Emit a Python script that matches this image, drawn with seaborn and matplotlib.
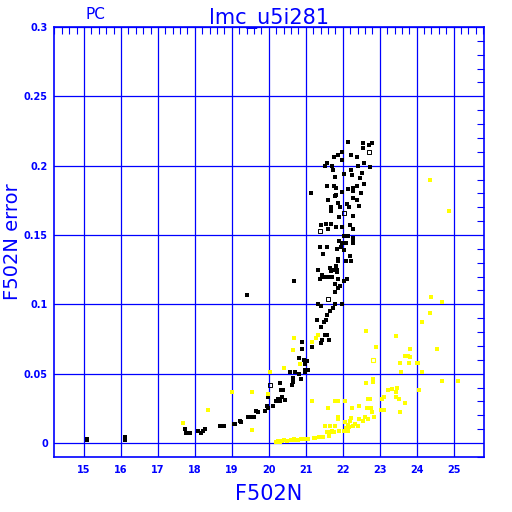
import matplotlib
matplotlib.use("Agg")
import matplotlib.pyplot as plt
from matplotlib.ticker import MultipleLocator
import seaborn as sns
import pandas as pd

# black points (magnitude, error)
black_mag = [22.13, 22.54, 22.70, 22.78, 22.54, 21.99, 21.87, 22.21, 21.77, 22.38,
             21.97, 22.58, 21.58, 21.51, 21.71, 22.40, 22.74, 21.73, 22.23, 22.51,
             22.03, 22.24, 21.80, 22.46, 22.58, 21.58, 21.77, 21.83, 22.38, 22.27,
             22.15, 22.27, 22.48, 21.82, 21.80, 21.15, 21.98, 22.28, 21.61, 22.39,
             21.88, 22.12, 22.45, 21.93, 22.18, 21.67, 21.69, 22.29, 21.91, 21.42,
             21.56, 21.69, 21.83, 21.98, 22.19, 22.27, 21.61, 22.03, 22.13, 22.29,
             22.29, 21.89, 21.99, 22.10, 21.39, 21.58, 21.85, 21.94, 22.04, 22.27,
             21.47, 22.19, 21.88, 22.09, 22.22, 21.87, 21.83, 21.65, 21.34, 21.77,
             21.85, 21.68, 21.85, 21.45, 21.50, 21.61, 21.72, 21.87, 21.39, 22.11,
             20.69, 22.04, 21.80, 21.88, 21.93, 21.80, 21.79, 21.97, 21.34, 21.42,
             21.73, 21.65, 21.58, 21.56, 21.30, 21.49, 21.40, 21.51, 21.58, 21.27,
             21.43, 21.63, 20.89, 21.41, 21.18, 20.89, 20.81, 20.95, 21.02, 20.98,
             21.05, 20.97, 20.58, 20.70, 20.82, 20.98, 20.66, 20.66, 20.86, 20.29,
             20.62, 20.32, 20.39, 20.36, 20.44, 20.29, 19.98, 20.26, 20.19, 19.94,
             19.99, 20.12, 19.89, 19.66, 19.72, 19.43, 19.51, 19.59, 19.21, 19.24,
             19.05, 19.08, 18.69, 18.80, 18.28, 18.23, 18.16, 18.08, 17.88, 17.76,
             17.72, 15.07, 15.09, 16.11, 16.12, 19.40]
black_err = [0.217, 0.216, 0.215, 0.216, 0.213, 0.210, 0.208, 0.208, 0.206, 0.206,
             0.204, 0.202, 0.202, 0.200, 0.200, 0.200, 0.199, 0.197, 0.197, 0.195,
             0.194, 0.193, 0.192, 0.191, 0.187, 0.185, 0.185, 0.184, 0.185, 0.184,
             0.183, 0.182, 0.180, 0.179, 0.178, 0.180, 0.181, 0.177, 0.175, 0.175,
             0.173, 0.172, 0.171, 0.170, 0.170, 0.170, 0.167, 0.164, 0.163, 0.157,
             0.158, 0.158, 0.156, 0.156, 0.157, 0.154, 0.154, 0.149, 0.149, 0.148,
             0.145, 0.146, 0.144, 0.144, 0.141, 0.141, 0.140, 0.141, 0.139, 0.144,
             0.136, 0.135, 0.133, 0.131, 0.131, 0.131, 0.128, 0.126, 0.125, 0.125,
             0.125, 0.124, 0.123, 0.121, 0.120, 0.120, 0.120, 0.118, 0.118, 0.118,
             0.117, 0.117, 0.115, 0.112, 0.113, 0.109, 0.100, 0.100, 0.100, 0.099,
             0.097, 0.095, 0.092, 0.089, 0.089, 0.087, 0.084, 0.078, 0.078, 0.076,
             0.074, 0.074, 0.073, 0.072, 0.069, 0.068, 0.061, 0.060, 0.059, 0.057,
             0.053, 0.053, 0.051, 0.051, 0.050, 0.051, 0.047, 0.044, 0.046, 0.043,
             0.042, 0.038, 0.038, 0.033, 0.031, 0.030, 0.033, 0.032, 0.030, 0.027,
             0.025, 0.027, 0.023, 0.023, 0.022, 0.019, 0.019, 0.019, 0.016, 0.015,
             0.014, 0.014, 0.012, 0.012, 0.010, 0.009, 0.007, 0.009, 0.007, 0.007,
             0.010, 0.003, 0.002, 0.004, 0.002, 0.107]

# open black squares
black_open_mag = [22.71, 22.04, 21.38, 21.60, 20.03]
black_open_err = [0.210, 0.166, 0.153, 0.104, 0.042]

# yellow points
yellow_mag = [17.69, 18.36, 19.00, 19.55, 19.54, 19.99, 20.04, 20.42, 20.69, 20.66,
              20.85, 21.17, 21.27, 21.34, 21.18, 22.64, 23.43, 22.91, 23.67, 23.77,
              23.81, 23.54, 23.80, 24.03, 23.57, 22.81, 22.81, 22.64, 23.32, 23.23,
              23.43, 24.05, 23.11, 23.05, 23.43, 23.53, 22.67, 22.74, 22.07, 21.80,
              22.45, 23.67, 22.26, 22.66, 22.77, 21.60, 23.04, 23.12, 22.80, 23.54,
              21.87, 21.87, 22.23, 22.85, 22.61, 22.69, 22.44, 22.54, 22.07, 22.20,
              22.34, 22.14, 21.51, 21.65, 21.78, 22.28, 22.40, 22.09, 21.72, 21.90,
              22.15, 22.03, 21.58, 21.66, 21.62, 21.47, 21.35, 21.25, 21.05, 20.94,
              20.87, 20.80, 20.70, 20.61, 20.49, 20.42, 20.35, 20.24, 20.20, 20.29,
              20.67, 21.22, 21.77, 21.89, 22.17, 21.87, 23.46, 24.35, 24.86, 24.40,
              24.68, 24.35, 24.15, 23.82, 24.56, 24.02, 24.15, 24.68, 25.11]
yellow_err = [0.0146, 0.0237, 0.037, 0.037, 0.0096, 0.035, 0.051, 0.054, 0.076, 0.067,
              0.057, 0.073, 0.076, 0.078, 0.030, 0.081, 0.077, 0.069, 0.063, 0.063,
              0.062, 0.058, 0.058, 0.058, 0.051, 0.046, 0.044, 0.043, 0.039, 0.038,
              0.037, 0.038, 0.033, 0.032, 0.033, 0.032, 0.032, 0.032, 0.030, 0.030,
              0.027, 0.029, 0.025, 0.025, 0.025, 0.025, 0.024, 0.024, 0.022, 0.022,
              0.019, 0.017, 0.018, 0.019, 0.019, 0.017, 0.017, 0.016, 0.015, 0.016,
              0.014, 0.013, 0.012, 0.012, 0.012, 0.012, 0.012, 0.011, 0.009, 0.009,
              0.009, 0.009, 0.008, 0.008, 0.005, 0.0045, 0.004, 0.0038, 0.003, 0.003,
              0.0027, 0.002, 0.002, 0.0018, 0.0017, 0.0018, 0.0017, 0.0012, 0.001, 0.001,
              0.0027, 0.0036, 0.0077, 0.0087, 0.0115, 0.030, 0.040, 0.190, 0.167, 0.105,
              0.102, 0.094, 0.087, 0.068, 0.068, 0.058, 0.051, 0.045, 0.045]

yellow_open_mag = [22.82]
yellow_open_err = [0.060]

x_ticks = list(range(15, 26))
y_ticks = [0, 0.05, 0.1, 0.15, 0.2, 0.25, 0.3]
y_tick_labels = ["0", "0.05", "0.1", "0.15", "0.2", "0.25", "0.3"]

black = pd.DataFrame({"mag": black_mag, "err": black_err})
yellow = pd.DataFrame({"mag": yellow_mag, "err": yellow_err})

sns.set_style("white")
plt.rcParams['font.family'] = ['DejaVu Sans']

blue = "#0000ff"
fig = plt.figure(figsize=(5.12, 5.12), dpi=100)
ax = fig.add_axes([54 / 512, 55 / 512, 430 / 512, 430 / 512])

sns.scatterplot(data=black, x="mag", y="err", color="black", marker="s", s=5,
                linewidth=0, ax=ax, zorder=3)
ax.scatter(black_open_mag, black_open_err, marker="s", s=9, facecolors="none",
           edgecolors="black", linewidths=0.7, zorder=3)
sns.scatterplot(data=yellow, x="mag", y="err", color="#ffff00", marker="s", s=6,
                linewidth=0, ax=ax, zorder=4)
ax.scatter(yellow_open_mag, yellow_open_err, marker="s", s=9, facecolors="none",
           edgecolors="#ffff00", linewidths=0.8, zorder=4)

ax.set_xlim(14.19, 25.82)
ax.set_ylim(-0.0101, 0.3)
ax.set_xticks(x_ticks)
ax.set_yticks(y_ticks)
ax.set_yticklabels(y_tick_labels)
ax.xaxis.set_minor_locator(MultipleLocator(0.2))
ax.yaxis.set_minor_locator(MultipleLocator(0.01))
ax.tick_params(which="both", direction="in", top=True, right=True, colors=blue,
               labelcolor=blue, labelsize=7)
ax.tick_params(which="major", length=0, pad=6)
ax.tick_params(axis="y", which="major", pad=4.5)
ax.tick_params(which="minor", length=5, width=0.8)
for lab in ax.get_xticklabels() + ax.get_yticklabels():
    lab.set_fontweight("bold")

ax.grid(True, which="major", color=blue, linewidth=0.9)
ax.set_axisbelow(True)
for sp in ax.spines.values():
    sp.set_color(blue)
    sp.set_linewidth(1.2)
    sp.set_visible(True)

ax.set_xlabel("F502N", color=blue, fontsize=15, labelpad=6)
ax.set_ylabel("F502N error", color=blue, fontsize=14)
ax.yaxis.set_label_coords(-0.075, 0.5)
ax.set_title("lmc_u5i281", color=blue, fontsize=15, pad=2)
ax.text(0.074, 1.012, "PC", transform=ax.transAxes, color=blue, fontsize=11,
        va="bottom", ha="left")

fig.savefig("out.png", dpi=100)
